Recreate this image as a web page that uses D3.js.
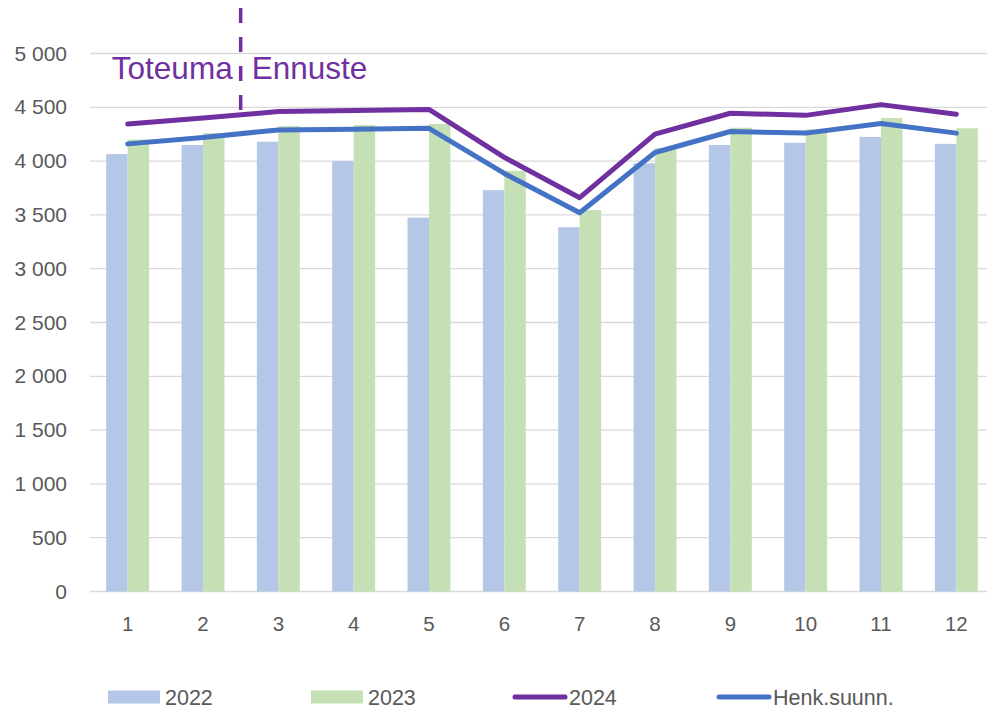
<!DOCTYPE html>
<html>
<head>
<meta charset="utf-8">
<script src="https://cdn.jsdelivr.net/npm/d3@7"></script>
<style>
  body { margin: 0; background: #fff; }
  text { font-family: "Liberation Sans", Arial, sans-serif; fill: #595959; }
</style>
</head>
<body>
<script>
// data
let months = [1, 2, 3, 4, 5, 6, 7, 8, 9, 10, 11, 12];
let v2022 = [4065, 4150, 4180, 4000, 3475, 3730, 3385, 3980, 4150, 4170, 4225, 4160];
let v2023 = [4200, 4260, 4325, 4335, 4345, 3910, 3545, 4120, 4310, 4295, 4400, 4305];
let v2024 = [4345, 4400, 4460, 4470, 4480, 4035, 3660, 4250, 4445, 4425, 4525, 4435];
let henk = [4160, 4220, 4290, 4295, 4305, 3885, 3520, 4080, 4275, 4260, 4350, 4260];
let yTicks = [0, 500, 1000, 1500, 2000, 2500, 3000, 3500, 4000, 4500, 5000];
let barSeries = ["2022", "2023"];

let W = 987, H = 710;
let svg = d3.select("body").append("svg")
  .attr("width", W)
  .attr("height", H);

let x = d3.scaleBand()
  .domain(months)
  .range([90, 994])
  .paddingInner(0.43)
  .paddingOuter(0.215);

let x1 = d3.scaleBand()
  .domain(barSeries)
  .range([0, x.bandwidth()]);

let y = d3.scaleLinear()
  .domain([0, 5000])
  .range([591.5, 53.5]);

let fmt = v => d3.format(",")(v).replace(/,/g, " ");

// gridlines
svg.append("g")
  .selectAll("line")
  .data(yTicks)
  .join("line")
  .attr("x1", 90)
  .attr("x2", 994)
  .attr("y1", d => y(d))
  .attr("y2", d => y(d))
  .attr("stroke", "#d9d9d9")
  .attr("stroke-width", 1.3);

// y labels
svg.append("g")
  .selectAll("text")
  .data(yTicks)
  .join("text")
  .attr("x", 67)
  .attr("y", d => y(d) + 7)
  .attr("text-anchor", "end")
  .attr("font-size", 21)
  .text(fmt);

// x labels
svg.append("g")
  .selectAll("text")
  .data(months)
  .join("text")
  .attr("x", d => x(d) + x.bandwidth() / 2)
  .attr("y", 631)
  .attr("text-anchor", "middle")
  .attr("font-size", 20.5)
  .text(d => d);

// bars
let barColors = { "2022": "#b4c7e7", "2023": "#c5e0b4" };
let barData = months.map((m, i) => ({ m: m, vals: [{ s: "2022", v: v2022[i] }, { s: "2023", v: v2023[i] }] }));

svg.append("g")
  .selectAll("g")
  .data(barData)
  .join("g")
  .attr("transform", d => "translate(" + x(d.m) + ",0)")
  .selectAll("rect")
  .data(d => d.vals)
  .join("rect")
  .attr("x", d => x1(d.s))
  .attr("width", x1.bandwidth())
  .attr("y", d => y(d.v))
  .attr("height", d => y(0) - y(d.v))
  .attr("fill", d => barColors[d.s]);

// lines
let line = d3.line()
  .x((d, i) => x(months[i]) + x.bandwidth() / 2)
  .y(d => y(d));

svg.append("path")
  .datum(v2024)
  .attr("d", line)
  .attr("fill", "none")
  .attr("stroke", "#7030a0")
  .attr("stroke-width", 5)
  .attr("stroke-linejoin", "round")
  .attr("stroke-linecap", "round");

svg.append("path")
  .datum(henk)
  .attr("d", line)
  .attr("fill", "none")
  .attr("stroke", "#4472c4")
  .attr("stroke-width", 5)
  .attr("stroke-linejoin", "round")
  .attr("stroke-linecap", "round");

// Toteuma / Ennuste divider
let splitX = x(2) + x.step() - (x.step() - x.bandwidth()) / 2;
svg.append("line")
  .attr("x1", splitX)
  .attr("x2", splitX)
  .attr("y1", 8)
  .attr("y2", 124)
  .attr("stroke", "#7030a0")
  .attr("stroke-width", 3.5)
  .attr("stroke-dasharray", "15,14");

svg.append("text")
  .attr("x", splitX - 8)
  .attr("y", 79)
  .attr("text-anchor", "end")
  .attr("font-size", 31.5)
  .style("fill", "#7030a0")
  .text("Toteuma");

svg.append("text")
  .attr("x", splitX + 11)
  .attr("y", 79)
  .attr("font-size", 31.5)
  .style("fill", "#7030a0")
  .text("Ennuste");

// legend
let legend = [
  { name: "2022", type: "rect", color: "#b4c7e7", x: 108 },
  { name: "2023", type: "rect", color: "#c5e0b4", x: 311 },
  { name: "2024", type: "line", color: "#7030a0", x: 513 },
  { name: "Henk.suunn.", type: "line", color: "#4472c4", x: 717 }
];
let lg = svg.append("g")
  .selectAll("g")
  .data(legend)
  .join("g")
  .attr("transform", d => "translate(" + d.x + ",697)");

lg.filter(d => d.type == "rect")
  .append("rect")
  .attr("x", 0)
  .attr("y", -6.5)
  .attr("width", 52)
  .attr("height", 13)
  .attr("fill", d => d.color);

lg.filter(d => d.type == "line")
  .append("line")
  .attr("x1", 2)
  .attr("x2", 52)
  .attr("y1", 0)
  .attr("y2", 0)
  .attr("stroke", d => d.color)
  .attr("stroke-width", 5)
  .attr("stroke-linecap", "round");

lg.append("text")
  .attr("x", d => d.type == "rect" ? 57 : 56)
  .attr("y", 8)
  .attr("font-size", 21.5)
  .text(d => d.name);
</script>
</body>
</html>
